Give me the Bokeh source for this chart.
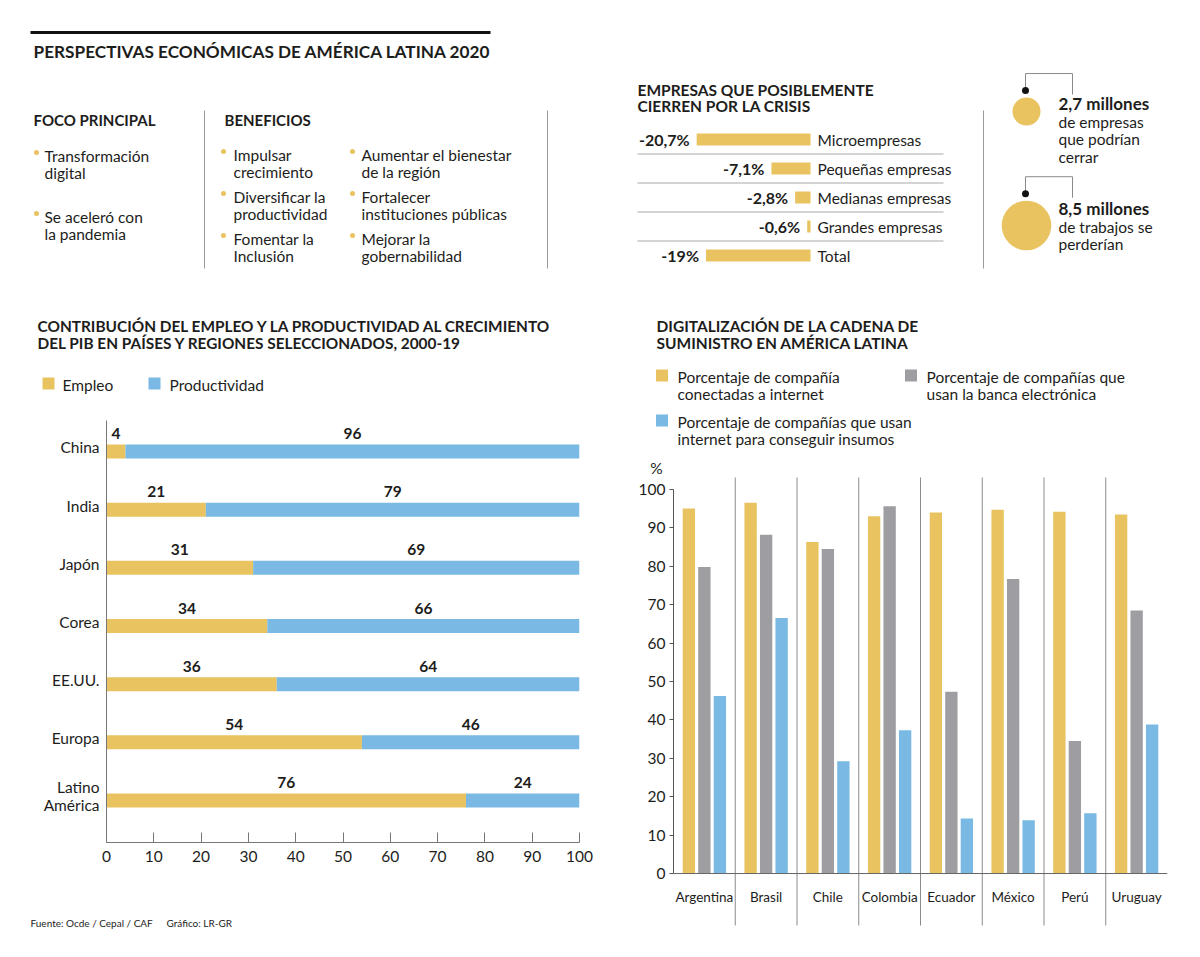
from bokeh.plotting import figure
from bokeh.models import Range1d, FactorRange, ColumnDataSource, FixedTicker, Span, Spacer
from bokeh.layouts import row, column
from bokeh.embed import file_html
from bokeh.resources import INLINE
from bokeh.core.properties import value
from bokeh.transform import dodge

# ---------------- data ----------------
main_title = "PERSPECTIVAS ECONÓMICAS DE AMÉRICA LATINA 2020"
foco_title = "FOCO PRINCIPAL"
foco_items = ["Transformación\ndigital", "Se aceleró con\nla pandemia"]
benef_title = "BENEFICIOS"
benef_col1 = ["Impulsar\ncrecimiento", "Diversificar la\nproductividad", "Fomentar la\nInclusión"]
benef_col2 = ["Aumentar el bienestar\nde la región", "Fortalecer\ninstituciones públicas", "Mejorar la\ngobernabilidad"]

emp_title = "EMPRESAS QUE POSIBLEMENTE\nCIERREN POR LA CRISIS"
emp_cats = ["Microempresas", "Pequeñas empresas", "Medianas empresas", "Grandes empresas", "Total"]
emp_vals = [-20.7, -7.1, -2.8, -0.6, -19.0]
emp_labels = ["-20,7%", "-7,1%", "-2,8%", "-0,6%", "-19%"]

circ_vals = [2.7, 8.5]
circ_heads = ["2,7 millones", "8,5 millones"]
circ_texts = ["de empresas\nque podrían\ncerrar", "de trabajos se\nperderían"]

pib_title = "CONTRIBUCIÓN DEL EMPLEO Y LA PRODUCTIVIDAD AL CRECIMIENTO\nDEL PIB EN PAÍSES Y REGIONES SELECCIONADOS, 2000-19"
pib_series = ["Empleo", "Productividad"]
pib_cats = ["China", "India", "Japón", "Corea", "EE.UU.", "Europa", "Latino\nAmérica"]
empleo = [4, 21, 31, 34, 36, 54, 76]
productividad = [96, 79, 69, 66, 64, 46, 24]
pib_ticks = list(range(0, 101, 10))

dig_title = "DIGITALIZACIÓN DE LA CADENA DE\nSUMINISTRO EN AMÉRICA LATINA"
dig_series = ["Porcentaje de compañía\nconectadas a internet",
              "Porcentaje de compañías que\nusan la banca electrónica",
              "Porcentaje de compañías que usan\ninternet para conseguir insumos"]
countries = ["Argentina", "Brasil", "Chile", "Colombia", "Ecuador", "México", "Perú", "Uruguay"]
internet = [95.0, 96.5, 86.3, 93.0, 94.0, 94.7, 94.2, 93.5]
banca = [79.8, 88.2, 84.5, 95.6, 47.3, 76.7, 34.5, 68.5]
insumos = [46.2, 66.5, 29.2, 37.3, 14.3, 13.9, 15.7, 38.8]
dig_ticks = list(range(0, 101, 10))

source_text = "Fuente: Ocde / Cepal / CAF"
credit_text = "Gráfico: LR-GR"

# ---------------- style ----------------
FONT = "Lato"
YEL = "#E9C360"
BLUE = "#79B9E3"
GRAY = "#9E9DA2"
INK = "#1d1d1b"
RULE = "#9a9a9a"


def canvas(w, h):
    p = figure(width=w, height=h, x_range=Range1d(0, w), y_range=Range1d(h, 0),
               x_axis_type=None, y_axis_type=None, output_backend="svg",
               toolbar_location=None, min_border=0)
    p.grid.visible = False
    p.outline_line_color = None
    p.background_fill_color = "white"
    p.border_fill_color = "white"
    return p


def txt(p, x, y, s, size=15, bold=False, align="left", color=INK, font=FONT, lh=17,
        fx=lambda v: v, fy=lambda v: v):
    lines = s.split("\n")
    p.text(x=[fx(x)] * len(lines), y=[fy(y + i * lh) for i in range(len(lines))], text=lines,
           text_font=value(font), text_font_size=f"{size}px",
           text_font_style="bold" if bold else "normal",
           text_align=align, text_baseline="middle", text_color=color)


# ---------------- row 1: left canvas ----------------
top = canvas(622, 292)
top.segment(x0=22, y0=24, x1=482, y1=24, line_color="#111", line_width=3)
txt(top, 25, 43, main_title, size=17.2, bold=True)
txt(top, 25, 111, foco_title, size=15, bold=True)
txt(top, 216, 111, benef_title, size=15, bold=True)
for sx in (196, 539):
    top.segment(x0=sx, y0=102, x1=sx, y1=260, line_color=RULE, line_width=1)


def bullets(p, bx, tx, y0s, items):
    for y0, it in zip(y0s, items):
        p.scatter(x=[bx], y=[y0 - 3], size=5, color=YEL, line_color=None)
        txt(p, tx, y0, it, size=15.5)


bullets(top, 28, 36, [147, 208], foco_items)
bullets(top, 215, 225, [146, 188, 230], benef_col1)
bullets(top, 344, 353, [146, 188, 230], benef_col2)

# ---------------- row 1: empresas chart ----------------
EW, EH = 345, 292
EX0, EXS = 180, 5.5
EY0, EYS = 131, 29
emp = figure(width=EW, height=EH,
             x_range=Range1d(-EX0 / EXS, (EW - EX0) / EXS),
             y_range=Range1d((EH - EY0) / EYS, -EY0 / EYS),
             x_axis_type=None, y_axis_type=None, output_backend="svg",
             toolbar_location=None, min_border=0)
emp.grid.visible = False
emp.outline_line_color = None
ex = lambda px: (px - EX0) / EXS
ey = lambda py: (py - EY0) / EYS
eidx = list(range(len(emp_cats)))
txt(emp, 7, 81, emp_title, size=15.5, bold=True, lh=16.5, fx=ex, fy=ey)
emp.segment(x0=ex(7), x1=ex(313), y0=[i + 0.5 for i in eidx[:-1]], y1=[i + 0.5 for i in eidx[:-1]],
            line_color="#a8a8a8", line_width=1)
emp.hbar(y=eidx, left=emp_vals, right=0, height=12 / EYS, color=YEL, line_color=None)
emp.text(x=emp_vals, y=eidx, text=emp_labels, x_offset=-7, text_align="right", text_baseline="middle",
         text_font=value(FONT), text_font_size="16px", text_font_style="bold", text_color=INK)
emp.text(x=0, y=eidx, text=emp_cats, x_offset=7, text_align="left", text_baseline="middle",
         text_font=value(FONT), text_font_size="15.5px", text_color=INK)

# ---------------- row 1: circles ----------------
rt = canvas(217, 292)
rt.segment(x0=8, y0=102, x1=8, y1=260, line_color=RULE, line_width=1)
K = 8.5
cys = [103, 217]
for v, cy in zip(circ_vals, cys):
    r = K * v ** 0.5
    dot_y = cy - r - 7
    rt.line(x=[50, 50, 97, 97], y=[dot_y, dot_y - 17, dot_y - 17, dot_y + 4], line_color="#8a8a8a", line_width=1)
    rt.scatter(x=[50], y=[dot_y], size=7, color="#111", line_color=None)
rt.scatter(x=[51, 51], y=cys, size=[2 * K * v ** 0.5 for v in circ_vals], color=YEL, line_color=None)
for ty, head, body in zip([95, 200], circ_heads, circ_texts):
    txt(rt, 83, ty, head, size=17, bold=True)
    txt(rt, 83, ty + 18, body, size=15.5, lh=17.5)

row1 = row(top, emp, rt)

# ---------------- row 2 left: header ----------------
lhd = canvas(592, 115)
txt(lhd, 29, 25, pib_title, size=15.4, bold=True, lh=17)
lhd.scatter(x=[40, 146], y=[83, 83], size=12, marker="square", color=[YEL, BLUE], line_color=None)
lhd.text(x=[54, 161], y=[84, 84], text=pib_series, text_font=value(FONT), text_font_size="15.5px",
         text_baseline="middle", text_color=INK)

# ---------------- row 2 left: stacked bars ----------------
ypos = list(range(len(pib_cats)))[::-1]
src = ColumnDataSource(dict(pos=ypos, Empleo=empleo, Productividad=productividad))
lc = figure(width=592, height=465, x_range=Range1d(0, 100), y_range=Range1d(-0.722, 6.533),
            output_backend="svg", toolbar_location=None,
            min_border_left=98, min_border_right=21, min_border_top=5, min_border_bottom=38)
lc.grid.visible = False
lc.outline_line_color = None
lc.hbar_stack(pib_series, y="pos", height=0.24, color=[YEL, BLUE], line_color=None, source=src)
lab_x = [e / 2 for e in empleo] + [e + q / 2 for e, q in zip(empleo, productividad)]
lab_t = [str(e) for e in empleo] + [str(q) for q in productividad]
lc.text(x=lab_x, y=ypos + ypos, text=lab_t, y_offset=-18, text_align="center", text_baseline="middle",
        text_font=value(FONT), text_font_size="15.5px", text_font_style="bold", text_color=INK)
lc.xaxis.ticker = FixedTicker(ticks=pib_ticks)
lc.xaxis.major_tick_in = 10
lc.xaxis.major_tick_out = 0
lc.xaxis.minor_tick_line_color = None
lc.xaxis.axis_line_color = "#777"
lc.xaxis.major_tick_line_color = "#777"
lc.xaxis.major_label_standoff = 8
# category labels sit slightly above the bar centres
lab_pos = [p + 0.07 for p in ypos]
lc.yaxis.ticker = FixedTicker(ticks=lab_pos)
lc.yaxis.major_label_overrides = {p: c for p, c in zip(lab_pos, pib_cats)}
lc.yaxis.major_tick_line_color = None
lc.yaxis.major_tick_in = 0
lc.yaxis.major_tick_out = 0
lc.yaxis.minor_tick_line_color = None
lc.yaxis.axis_line_color = "#777"
lc.yaxis.major_label_standoff = 7
lc.yaxis.major_label_text_align = "right"
lc.yaxis.major_label_text_line_height = 1.0
for ax in (lc.xaxis, lc.yaxis):
    ax.major_label_text_font = FONT
    ax.major_label_text_font_size = "15.5px"
    ax.major_label_text_color = INK

foot = canvas(592, 69)
txt(foot, 22, 42, source_text, size=10, font=FONT)
txt(foot, 158, 42, credit_text, size=10, font=FONT)

left_col = column(row(lhd), row(lc), row(foot))

# ---------------- row 2 right: header ----------------
rh = canvas(592, 175)
txt(rh, 56, 25, dig_title, size=15.5, bold=True, lh=17)
leg_xy = [(61.5, 75), (310.5, 75), (61.5, 120)]
rh.scatter(x=[a for a, b in leg_xy], y=[b for a, b in leg_xy], size=12, marker="square",
           color=[YEL, GRAY, BLUE], line_color=None)
for (a, b), s in zip(leg_xy, dig_series):
    txt(rh, a + 15.5, b + 1, s, size=15.5)
txt(rh, 56, 167, "%", size=15.5, align="center")

# ---------------- row 2 right: grouped bars ----------------
dsrc = ColumnDataSource(dict(country=countries, internet=internet, banca=banca, insumos=insumos))
rc = figure(width=592, height=474, x_range=FactorRange(factors=countries, range_padding=0),
            y_range=Range1d(-13.53, 103.1), x_axis_location=None,
            output_backend="svg", toolbar_location=None,
            min_border_left=73, min_border_right=25, min_border_top=2, min_border_bottom=24)
rc.grid.visible = False
rc.outline_line_color = None
sep = ColumnDataSource(dict(country=countries[:-1]))
rc.segment(x0=dodge("country", 0.5, range=rc.x_range), x1=dodge("country", 0.5, range=rc.x_range),
           y0=-30, y1=120, source=sep, line_color="#8c8c8c", line_width=1)
for col, off, c in [("internet", -0.251, YEL), ("banca", 0.0, GRAY), ("insumos", 0.251, BLUE)]:
    rc.vbar(x=dodge("country", off, range=rc.x_range), top=col, width=0.2, source=dsrc,
            color=c, line_color=None)
rc.add_layout(Span(location=0, dimension="width", line_color="#666", line_width=1))
rc.text(x="country", y=0, text="country", source=dsrc, y_offset=23, text_align="center",
        text_baseline="middle", text_font=value(FONT), text_font_size="13.5px", text_color=INK)
rc.yaxis.ticker = FixedTicker(ticks=dig_ticks)
rc.yaxis.bounds = (0, 100)
rc.yaxis.major_tick_in = 0
rc.yaxis.major_tick_out = 4
rc.yaxis.minor_tick_line_color = None
rc.yaxis.axis_line_color = "#555"
rc.yaxis.major_tick_line_color = "#555"
rc.yaxis.major_label_standoff = 4
rc.yaxis.major_label_text_font = FONT
rc.yaxis.major_label_text_font_size = "15.5px"
rc.yaxis.major_label_text_color = INK

right_col = column(row(rh), row(rc))

content = column(row1, row(left_col, right_col))
layout = column(Spacer(height=8), row(Spacer(width=8), content))
open("out.html", "w").write(file_html(layout, INLINE))
